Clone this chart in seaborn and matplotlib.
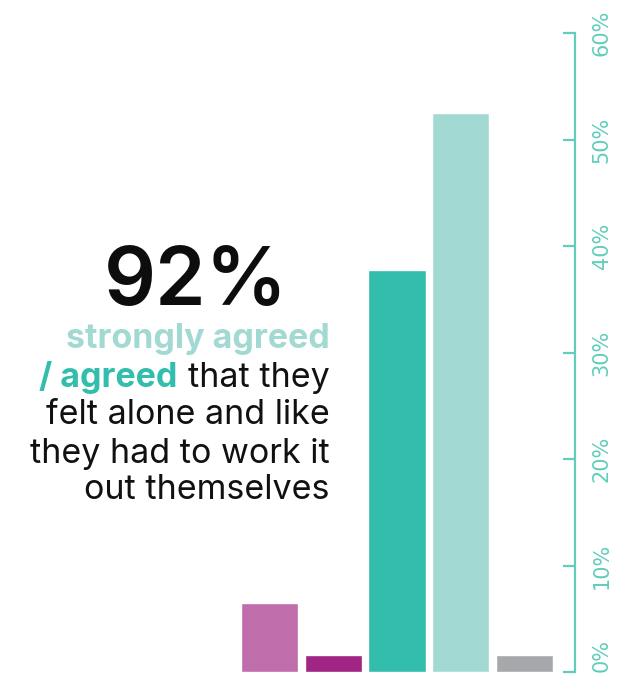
import matplotlib
matplotlib.use("Agg")
import matplotlib.pyplot as plt
import seaborn as sns
import pandas as pd

categories = ["Strongly disagree", "Disagree", "Agree", "Strongly agree", "Neutral"]
values = [6.5, 1.6, 37.7, 52.5, 1.6]
bar_colors = ["#bf6dab", "#a02585", "#33bdac", "#a3d9d3", "#a7a8ab"]
ytick_vals = [0, 10, 20, 30, 40, 50, 60]
ytick_labels = ["0%", "10%", "20%", "30%", "40%", "50%", "60%"]

AXIS_C = "#62cdbd"
FONT = "Inter"

sns.set_theme(style="white")
plt.rcParams["font.family"] = [FONT, "DejaVu Sans"]

W, H = 621, 680
fig = plt.figure(figsize=(W / 100, H / 100), dpi=100)
ax = fig.add_axes([238 / W, (H - 672) / H, (575 - 238) / W, (672 - 33) / H])

df = pd.DataFrame({"cat": categories, "val": values})
sns.barplot(data=df, x="cat", y="val", hue="cat", palette=bar_colors,
            legend=False, width=0.9, saturation=1, ax=ax, order=categories)

ax.set_xlim(-0.5, 4.8)
ax.set_ylim(0, 60)
ax.set_xlabel("")
ax.set_ylabel("")
ax.set_xticks([])
for s in ["left", "top", "bottom"]:
    ax.spines[s].set_visible(False)
ax.spines["right"].set_color(AXIS_C)
ax.spines["right"].set_linewidth(1.6)
ax.yaxis.tick_right()
ax.set_yticks(ytick_vals)
ax.set_yticklabels(ytick_labels)
ax.tick_params(axis="y", direction="in", length=8.6, width=1.6, color=AXIS_C,
               labelcolor=AXIS_C, labelsize=15, pad=12, right=True, left=False)
for i, lbl in enumerate(ax.get_yticklabels()):
    lbl.set_rotation(90)
    lbl.set_ha("left")
    lbl.set_va("bottom" if i == 0 else "center")
    lbl.set_fontfamily(["DejaVu Sans"])

def fx(x):
    return x / W

def fy(y):
    return 1 - y / H

RX = 330
fig.text(fx(288), fy(305), "92%", ha="right", va="baseline", fontsize=58.5,
         fontweight="semibold", color="#0d0d0d")
fs = 24.5
fig.text(fx(RX), fy(348), "strongly agreed", ha="right", va="baseline",
         fontsize=fs, fontweight="bold", color="#a3d9d3")
t2 = fig.text(fx(RX), fy(387), "that they", ha="right", va="baseline",
              fontsize=fs, color="#111111")
fig.canvas.draw()
r = fig.canvas.get_renderer()
bb = t2.get_window_extent(r)
fig.text(bb.x0 / W - 11 / W, fy(387), "/ agreed", ha="right", va="baseline",
         fontsize=fs, fontweight="bold", color="#33bdac")
for y, s in [(424, "felt alone and like"), (463, "they had to work it"), (499, "out themselves")]:
    fig.text(fx(RX), fy(y), s, ha="right", va="baseline", fontsize=fs, color="#111111")

fig.savefig("out.png", dpi=100)
